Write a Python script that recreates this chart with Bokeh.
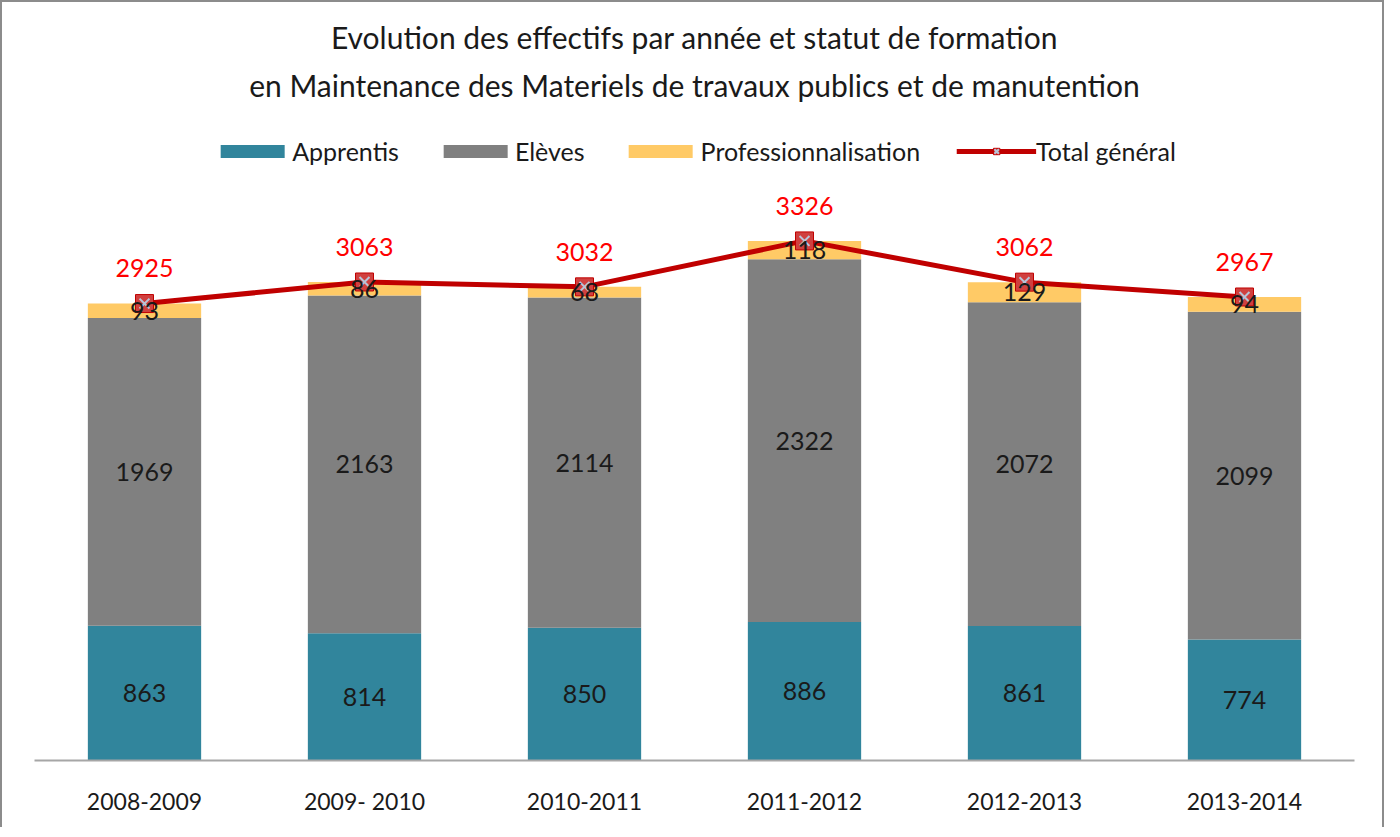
from bokeh.plotting import figure
from bokeh.models import ColumnDataSource, Legend, LegendItem, Title, Range1d, FactorRange
from bokeh.core.properties import value
from bokeh.embed import file_html
from bokeh.resources import INLINE

categories = ["2008-2009", "2009- 2010", "2010-2011", "2011-2012", "2012-2013", "2013-2014"]
apprentis = [863, 814, 850, 886, 861, 774]
eleves = [1969, 2163, 2114, 2322, 2072, 2099]
profession = [93, 86, 68, 118, 129, 94]
total = [2925, 3063, 3032, 3326, 3062, 2967]

FONT = "Lato"
C_APP = "#31859C"
C_ELE = "#808080"
C_PRO = "#FFCA66"
C_TOT = "#C00000"

e_top = [a + e for a, e in zip(apprentis, eleves)]
p_top = [a + e + p for a, e, p in zip(apprentis, eleves, profession)]

src = ColumnDataSource(dict(
    cat=categories,
    app=apprentis, ele=eleves, pro=profession, tot=total,
    e_top=e_top, p_top=p_top,
    a_mid=[a / 2 for a in apprentis],
    e_mid=[b + e / 2 for b, e in zip(apprentis, eleves)],
    p_mid=[b + p / 2 for b, p in zip(e_top, profession)],
    t_lab=[t + 225 for t in total],
    app_s=[str(v) for v in apprentis],
    ele_s=[str(v) for v in eleves],
    pro_s=[str(v) for v in profession],
    tot_s=[str(v) for v in total],
))

p = figure(
    width=1384, height=827,
    x_range=FactorRange(*categories, range_padding=0),
    y_range=Range1d(0, 4116),
    output_backend="svg", toolbar_location=None,
    min_border_left=32, min_border_right=32, min_border_bottom=69,
    min_border_top=115,
)
p.styles = {"border": "2px solid #8c8c8c", "border-bottom": "none"}
p.outline_line_color = None
p.xgrid.grid_line_color = None
p.ygrid.grid_line_color = None
p.yaxis.visible = False

r_app = p.vbar(x="cat", bottom=0, top="app", width=0.515, source=src, fill_color=C_APP, line_color=None)
r_ele = p.vbar(x="cat", bottom="app", top="e_top", width=0.515, source=src, fill_color=C_ELE, line_color=None)
r_pro = p.vbar(x="cat", bottom="e_top", top="p_top", width=0.515, source=src, fill_color=C_PRO, line_color=None)

lab_kw = dict(text_align="center", text_baseline="middle", text_font=value(FONT),
              text_font_size="25px", text_color="#1a1a1a", source=src)
p.text(x="cat", y="a_mid", text="app_s", **lab_kw)
p.text(x="cat", y="e_mid", text="ele_s", **lab_kw)

r_line = p.line(x="cat", y="tot", source=src, line_color=C_TOT, line_width=5)
r_sq = p.scatter(x="cat", y="tot", source=src, marker="square", size=18, fill_color="#D0403F", line_color=C_TOT, line_width=1)
r_x = p.scatter(x="cat", y="tot", source=src, marker="x", size=14, line_color="#B8C4D8", line_width=2)

p.text(x="cat", y="p_mid", text="pro_s", **lab_kw)
p.text(x="cat", y="t_lab", text="tot_s", text_align="center", text_baseline="middle",
       text_font=value(FONT), text_font_size="25px", text_color="#FF0000", source=src)

ax = p.xaxis[0]
ax.axis_line_color = "#a6a6a6"
ax.axis_line_width = 2
ax.major_tick_line_color = None
ax.minor_tick_line_color = None
ax.major_label_text_font = FONT
ax.major_label_text_font_size = "23px"
ax.major_label_text_color = "#1a1a1a"
ax.major_label_standoff = 20

legend = Legend(items=[
    LegendItem(label="Apprentis", renderers=[r_app]),
    LegendItem(label="Elèves", renderers=[r_ele]),
    LegendItem(label="Professionnalisation", renderers=[r_pro]),
    LegendItem(label="Total général", renderers=[r_line, r_sq, r_x]),
], orientation="horizontal", location="top_center",
    label_text_font=FONT, label_text_font_size="25px", label_text_color="#1a1a1a",
    glyph_width=80, glyph_height=16, spacing=36, label_standoff=0,
    border_line_color=None, background_fill_alpha=0, padding=4, margin=19)
p.add_layout(legend, "center")

t2 = Title(text="en Maintenance des Materiels de travaux publics et de manutention",
           align="center", text_font=FONT, text_font_size="30px", text_font_style="normal",
           text_color="#1a1a1a", standoff=30)
p.add_layout(t2, "above")
p.title.text = "Evolution des effectifs par année et statut de formation"
p.title.align = "center"
p.title.text_font = FONT
p.title.text_font_size = "30px"
p.title.text_font_style = "normal"
p.title.text_color = "#1a1a1a"
p.title.standoff = -11

open("out.html", "w").write(file_html(p, INLINE))
